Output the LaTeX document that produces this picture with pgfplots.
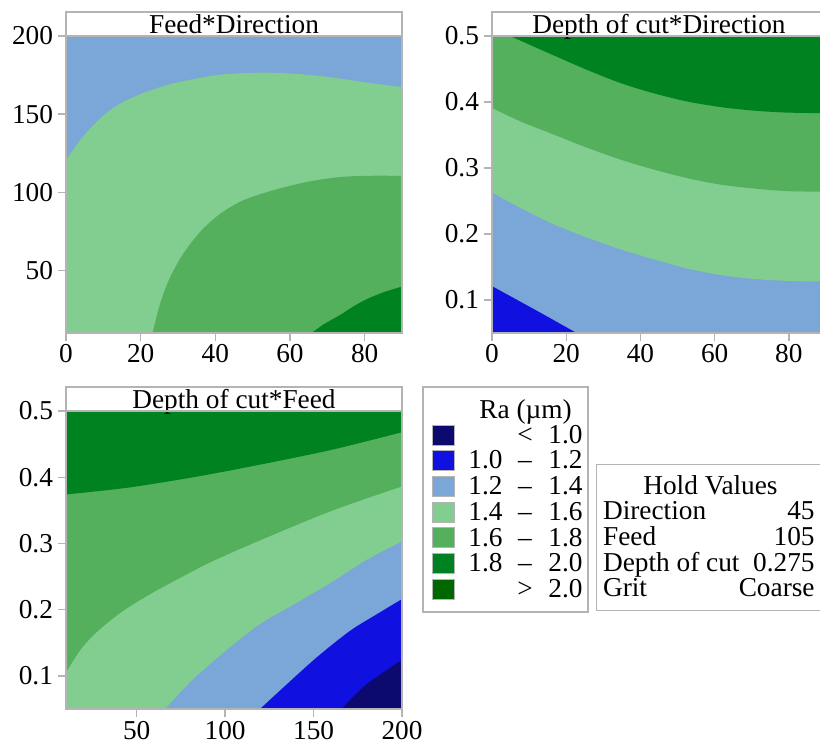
\documentclass[border=0pt]{standalone}
\usepackage{pgfplots}
\pgfplotsset{compat=1.18}
\usepgfplotslibrary{fillbetween}
\usepackage{fontspec}
\setmainfont{Liberation Serif}
\definecolor{cnavy}{HTML}{0C0A6E}
\definecolor{cblue}{HTML}{1010E0}
\definecolor{clblue}{HTML}{7BA6D8}
\definecolor{clgreen}{HTML}{82CD90}
\definecolor{cmgreen}{HTML}{54B05C}
\definecolor{cgreen}{HTML}{008220}
\definecolor{cdgreen}{HTML}{006600}
\definecolor{framec}{HTML}{B4B4B4}
\newcommand{\tf}{\fontsize{13.7}{16}\selectfont}
\pgfplotsset{cp/.style={scale only axis, axis on top,
  axis line style={draw=framec, line width=0.7pt},
  every tick/.style={draw=framec, line width=0.7pt},
  tick align=outside, major tick length=4bp,
  xtick pos=bottom, ytick pos=left,
  tick label style={font=\tf},
  xticklabel style={yshift=1.6bp},
  yticklabel style={xshift=1bp},
  /pgf/number format/assume math mode=true,
  enlargelimits=false}}
\begin{document}
\begin{tikzpicture}[font=\tf]
% ---------------- Panel 1: Feed*Direction ----------------
\begin{axis}[cp, name=p1, at={(33bp,-166.5bp)}, anchor=south west,
  width=168bp, height=148.5bp,
  xmin=0, xmax=90, ymin=10, ymax=200,
  xtick={0,20,40,60,80}, ytick={50,100,150,200},
  axis background/.style={fill=clblue}]
\addplot[name path=bot, draw=none] coordinates {(0,10) (90,10)};
\addplot[name path=a14, draw=none, smooth] coordinates {(0,120.5) (3.75,133.3) (7.3,142.9) (11.8,152.6) (16.3,159) (21.6,164.3) (27.9,169.2) (34.1,172.4) (40.4,175) (46.6,176.1) (53.8,176.6) (62.7,175.6) (71.5,173.4) (80.6,170.2) (90,167.3)};
\addplot[fill=clgreen, draw=none] fill between[of=a14 and bot];
\addplot[name path=a16, draw=none, smooth] coordinates {(23.2,10) (25.2,28.7) (27.9,45.7) (31.4,60.7) (35.9,74.6) (41.3,86.3) (47.5,94.9) (55.5,101.3) (64.5,106.6) (73.4,109.8) (82.3,110.6) (90,110.5)};
\addplot[name path=b16, draw=none] coordinates {(23.2,10) (90,10)};
\addplot[fill=cmgreen, draw=none] fill between[of=a16 and b16];
\addplot[name path=a18, draw=none, smooth] coordinates {(65.8,10) (69,15.5) (73.4,21.5) (77,27) (80.5,31.6) (85,36) (90,39.7)};
\addplot[name path=b18, draw=none] coordinates {(65.8,10) (90,10)};
\addplot[fill=cgreen, draw=none] fill between[of=a18 and b18];
\end{axis}
\draw[framec, line width=0.7pt] (p1.north west) rectangle ([yshift=12bp]p1.north east);
\node[anchor=base, inner sep=0pt] at ([yshift=1.5bp]p1.north) {Feed*Direction};
% ---------------- Panel 2: Depth of cut*Direction ----------------
\begin{axis}[cp, name=p2, at={(246bp,-166.5bp)}, anchor=south west,
  width=167bp, height=148.5bp,
  xmin=0, xmax=90, ymin=0.05, ymax=0.5,
  xtick={0,20,40,60,80}, ytick={0.1,0.2,0.3,0.4,0.5},
  axis background/.style={fill=clblue}]
\addplot[name path=top, draw=none] coordinates {(0,0.5) (90,0.5)};
\addplot[name path=a12, draw=none, smooth] coordinates {(0,0.121) (12,0.084) (22.8,0.05)};
\addplot[name path=b12, draw=none] coordinates {(0,0.05) (22.8,0.05)};
\addplot[fill=cblue, draw=none] fill between[of=a12 and b12];
\addplot[name path=a14, draw=none, smooth] coordinates {(0,0.263) (7.5,0.240) (16.5,0.215) (25.5,0.195) (34.5,0.177) (43.4,0.162) (52.4,0.148) (61.4,0.138) (70.4,0.132) (79.4,0.129) (90,0.128)};
\addplot[fill=clgreen, draw=none] fill between[of=a14 and top];
\addplot[name path=a16, draw=none, smooth] coordinates {(0,0.391) (7.5,0.371) (16.5,0.351) (25.5,0.331) (34.5,0.313) (43.4,0.298) (52.4,0.285) (61.4,0.275) (70.4,0.269) (79.4,0.265) (90,0.264)};
\addplot[fill=cmgreen, draw=none] fill between[of=a16 and top];
\addplot[name path=a18, draw=none, smooth] coordinates {(4.85,0.5) (16.5,0.471) (25.5,0.449) (34.5,0.429) (43.4,0.4135) (52.4,0.401) (61.4,0.3925) (70.4,0.387) (79.4,0.384) (90,0.383)};
\addplot[name path=b18, draw=none] coordinates {(4.85,0.5) (90,0.5)};
\addplot[fill=cgreen, draw=none] fill between[of=a18 and b18];
\end{axis}
\draw[framec, line width=0.7pt] (p2.north west) rectangle ([yshift=12bp]p2.north east);
\node[anchor=base, inner sep=0pt] at ([yshift=1.5bp]p2.north) {Depth of cut*Direction};
% ---------------- Panel 3: Depth of cut*Feed ----------------
\begin{axis}[cp, name=p3, at={(33bp,-354.5bp)}, anchor=south west,
  width=168bp, height=149bp,
  xmin=10, xmax=200, ymin=0.05, ymax=0.5,
  xtick={50,100,150,200}, ytick={0.1,0.2,0.3,0.4,0.5},
  axis background/.style={fill=cmgreen}]
\addplot[name path=top, draw=none] coordinates {(10,0.5) (200,0.5)};
\addplot[name path=bot, draw=none] coordinates {(10,0.05) (200,0.05)};
\addplot[name path=a18, draw=none, smooth] coordinates {(10,0.374) (44.3,0.384) (82,0.400) (119.7,0.419) (161.2,0.442) (200,0.468)};
\addplot[fill=cgreen, draw=none] fill between[of=a18 and top];
\addplot[name path=a16, draw=none, smooth] coordinates {(10,0.105) (17.9,0.138) (25.4,0.161) (34.9,0.183) (44.3,0.2015) (59.4,0.226) (72.6,0.245) (91.4,0.271) (119.7,0.3045) (161.2,0.350) (200,0.386)};
\addplot[fill=clgreen, draw=none] fill between[of=a16 and bot];
\addplot[name path=a14, draw=none, smooth] coordinates {(66,0.05) (82,0.095) (100.9,0.139) (119.7,0.178) (142.3,0.213) (161.2,0.243) (180,0.275) (200,0.303)};
\addplot[name path=b14, draw=none] coordinates {(66,0.05) (200,0.05)};
\addplot[fill=clblue, draw=none] fill between[of=a14 and b14];
\addplot[name path=a12, draw=none, smooth] coordinates {(119.7,0.05) (132.9,0.0825) (151.8,0.128) (170.6,0.168) (185.7,0.193) (200,0.216)};
\addplot[name path=b12, draw=none] coordinates {(119.7,0.05) (200,0.05)};
\addplot[fill=cblue, draw=none] fill between[of=a12 and b12];
\addplot[name path=a10, draw=none, smooth] coordinates {(165.9,0.05) (180,0.0875) (200,0.124)};
\addplot[name path=b10, draw=none] coordinates {(165.9,0.05) (200,0.05)};
\addplot[fill=cnavy, draw=none] fill between[of=a10 and b10];
\end{axis}
\draw[framec, line width=0.7pt] (p3.north west) rectangle ([yshift=12bp]p3.north east);
\node[anchor=base, inner sep=0pt] at ([yshift=1.5bp]p3.north) {Depth of cut*Feed};
% ---------------- Legend ----------------
\begin{scope}[x=0.5bp, y=-0.5bp]
\draw[framec, line width=0.7pt] (423,387) rectangle (588,612);
\node[anchor=base, inner sep=0pt] at (525.5,418.3) {Ra (µm)};
\foreach \c/\l/\m/\r [count=\i from 0] in {cnavy//</1.0, cblue/1.0/–/1.2, clblue/1.2/–/1.4, clgreen/1.4/–/1.6, cmgreen/1.6/–/1.8, cgreen/1.8/–/2.0, cdgreen//>/2.0}{
  \node[fill=\c, draw=framec, line width=0.3pt, minimum width=11bp, minimum height=10bp, inner sep=0pt] at (443,435+25.7*\i) {};
  \node[anchor=base east, inner sep=0pt] at (503,443.3+25.7*\i) {\l};
  \node[anchor=base, inner sep=0pt] at (525,443.3+25.7*\i) {\m};
  \node[anchor=base east, inner sep=0pt] at (583,443.3+25.7*\i) {\r};
}
% Hold values
\draw[framec, line width=0.7pt] (596.7,464.3) rectangle (826,610.7);
\node[anchor=base, inner sep=0pt] at (710.5,495) {Hold Values};
\foreach \a/\b [count=\i from 0] in {Direction/45, Feed/105, Depth of cut/0.275, Grit/Coarse}{
  \node[anchor=base west, inner sep=0pt] at (602.7,520+25.6*\i) {\a};
  \node[anchor=base east, inner sep=0pt] at (815,520+25.6*\i) {\b};
}
\end{scope}
\pgfresetboundingbox
\useasboundingbox (0,0) rectangle (410bp,-372bp);
\end{tikzpicture}
\end{document}
